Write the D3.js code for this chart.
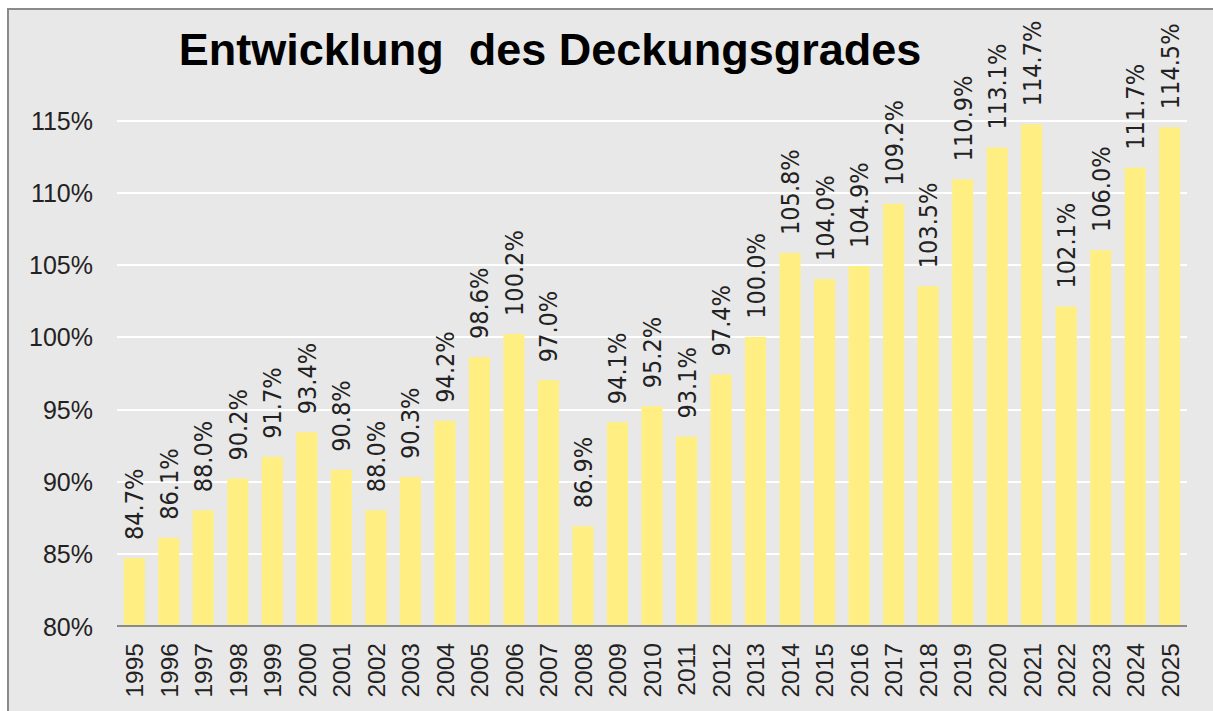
<!DOCTYPE html>
<html lang="de">
<head>
<meta charset="UTF-8">
<title>Entwicklung des Deckungsgrades</title>
<script src="https://d3js.org/d3.v7.min.js"></script>
<style>
body { margin: 0; background: #fff; }
.grid line { stroke: #fff; stroke-width: 2; shape-rendering: crispEdges; }
.grid path { display: none; }
.yaxis path, .yaxis line { display: none; }
.yaxis text { font-family: "Liberation Sans", Arial, sans-serif; font-size: 25px; fill: #222; }
.xaxis path { display: none; }
.xaxis line { display: none; }
.xaxis text { font-family: "Liberation Sans", Arial, sans-serif; font-size: 24.5px; fill: #222; }
.bar { fill: #ffee82; }
.label { font-family: "DejaVu Sans Condensed", "DejaVu Sans", sans-serif; font-size: 25px; fill: #222; }
.title { font-family: "Liberation Sans", Arial, sans-serif; font-size: 45px; font-weight: bold; fill: #000; }
</style>
</head>
<body>
<script>
var years = ["1995","1996","1997","1998","1999","2000","2001","2002","2003","2004",
             "2005","2006","2007","2008","2009","2010","2011","2012","2013","2014",
             "2015","2016","2017","2018","2019","2020","2021","2022","2023","2024","2025"];
var deckungsgrad = [84.7, 86.1, 88.0, 90.2, 91.7, 93.4, 90.8, 88.0, 90.3, 94.2,
                    98.6, 100.2, 97.0, 86.9, 94.1, 95.2, 93.1, 97.4, 100.0, 105.8,
                    104.0, 104.9, 109.2, 103.5, 110.9, 113.1, 114.7, 102.1, 106.0, 111.7, 114.5];
var yTicks = [80, 85, 90, 95, 100, 105, 110, 115];
var chartTitle = "Entwicklung\u00a0 des Deckungsgrades";

var width = 1213, height = 711;
var plotLeft = 117, plotRight = 1187, plotTop = 120, plotBottom = 626;

var svg = d3.select("body").append("svg")
    .attr("width", width)
    .attr("height", height);

// Hintergrund + Rahmen
svg.append("rect")
    .attr("x", 8).attr("y", 9)
    .attr("width", width + 10).attr("height", height + 10)
    .attr("fill", "#e8e8e8")
    .attr("stroke", "#8a8a8a")
    .attr("stroke-width", 2);

var x = d3.scaleBand()
    .domain(years)
    .range([plotLeft, plotRight])
    .paddingInner(0.39)
    .paddingOuter(0.195);

var y = d3.scaleLinear()
    .domain([80, 115])
    .range([plotBottom, plotTop]);

// Gitterlinien
svg.append("g")
    .attr("class", "grid")
    .attr("transform", "translate(" + plotLeft + ",0)")
    .call(d3.axisLeft(y).tickValues(yTicks.slice(1)).tickSize(-(plotRight - plotLeft)).tickFormat(""));

// Y-Achse
svg.append("g")
    .attr("class", "yaxis")
    .attr("transform", "translate(93,0)")
    .call(d3.axisLeft(y).tickValues(yTicks).tickSize(0).tickPadding(0).tickFormat(function(d) { return d + "%"; }))
    .selectAll("text").attr("dy", "0.36em");

// Balken
svg.append("g").selectAll(".bar")
    .data(deckungsgrad).enter()
    .append("rect")
    .attr("class", "bar")
    .attr("x", function(d, i) { return x(years[i]); })
    .attr("width", x.bandwidth())
    .attr("y", function(d) { return y(d); })
    .attr("height", function(d) { return plotBottom - y(d); });

// Basislinie
svg.append("line")
    .attr("x1", plotLeft).attr("x2", plotRight)
    .attr("y1", plotBottom).attr("y2", plotBottom)
    .attr("stroke", "#8a8a8a")
    .attr("stroke-width", 2);

// X-Achse
svg.append("g")
    .attr("class", "xaxis")
    .attr("transform", "translate(0," + plotBottom + ")")
    .call(d3.axisBottom(x).tickSize(0))
    .selectAll("text")
    .attr("text-anchor", "end")
    .attr("transform", "translate(0,17) rotate(-90)")
    .attr("x", 0).attr("y", 0)
    .attr("dy", "0.36em");

// Werte
svg.append("g").selectAll(".label")
    .data(deckungsgrad).enter()
    .append("text")
    .attr("class", "label")
    .attr("transform", function(d, i) {
        return "translate(" + (x(years[i]) + x.bandwidth() / 2) + "," + (y(d) - 18) + ") rotate(-90)";
    })
    .attr("dy", "0.36em")
    .text(function(d) { return d.toFixed(1) + "%"; });

// Titel
svg.append("text")
    .attr("class", "title")
    .attr("x", 550).attr("y", 65)
    .attr("text-anchor", "middle")
    .text(chartTitle);
</script>
</body>
</html>
